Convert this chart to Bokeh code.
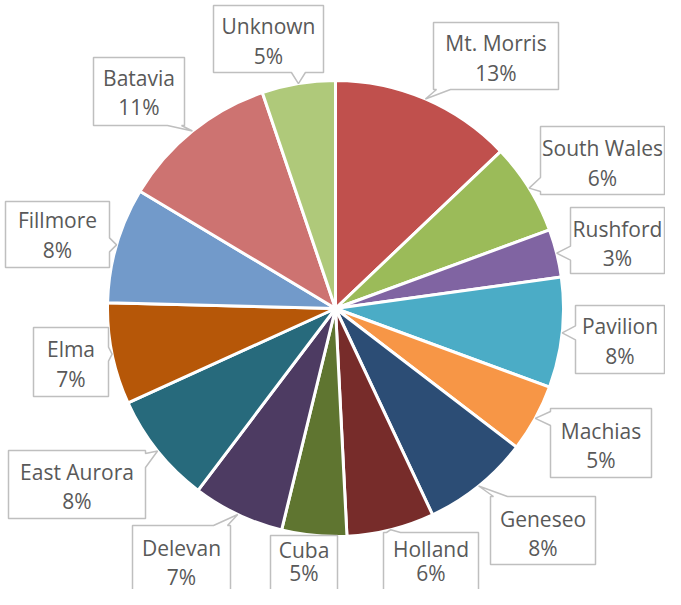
import math
from bokeh.plotting import figure
from bokeh.models import Range1d
from bokeh.core.properties import value
from bokeh.embed import file_html
from bokeh.resources import INLINE

# ---- data ----
towns = ["Mt. Morris", "South Wales", "Rushford", "Pavilion", "Machias", "Geneseo",
         "Holland", "Cuba", "Delevan", "East Aurora", "Elma", "Fillmore", "Batavia", "Unknown"]
shares = [12.9, 6.5, 3.4, 7.8, 4.8, 7.6, 6.2, 4.6, 6.5, 7.9, 7.2, 8.2, 11.2, 5.2]
pct_labels = ["13%", "6%", "3%", "8%", "5%", "8%", "6%", "5%", "7%", "8%", "7%", "8%", "11%", "5%"]
colors = ["#C0504D", "#9BBB59", "#8064A2", "#4BACC6", "#F79646", "#2C4D75", "#772C2A",
          "#5F7530", "#4D3B62", "#276A7C", "#B65708", "#729ACA", "#CD7371", "#AFC97A"]

# ---- layout (pixel coordinates, origin at top-left of the picture) ----
W, H = 665, 589
CX, CY, R = 335, 308, 228
# label boxes: x0, x1, y0(top), y1(bottom), tail side, line1 offset, line2 offset
boxes = [
    (433, 558, 22, 89, "bottom", 20, 50),
    (540, 664, 126, 194, "left", 21, 51),
    (570, 664, 207, 273, "left", 21, 50),
    (575, 664, 305, 373, "left", 20, 50),
    (550, 651, 408, 477, "left", 22, 51),
    (490, 595, 496, 564, "top", 22, 51),
    (383, 478, 532, 600, "top", 16, 40),
    (270, 337, 535, 600, "top", 14, 37),
    (132, 230, 525, 593, "top", 22, 51),
    (8, 145, 450, 518, "right", 21, 50),
    (33, 108, 327, 396, "right", 21, 51),
    (5, 109, 201, 267, "right", 18, 48),
    (93, 184, 57, 125, "bottom", 20, 49),
    (213, 323, 5, 72, "bottom", 20, 50),
]

def fy(sy):
    return 605 - sy

p = figure(width=W, height=H, output_backend="svg", toolbar_location=None,
           x_range=Range1d(0, W), y_range=Range1d(605 - H, 605),
           min_border=0)
p.axis.visible = False
p.grid.visible = False
p.outline_line_color = None
p.background_fill_color = "white"
p.border_fill_color = "white"

total = sum(shares)
starts, ends, mids = [], [], []
cum = 0.0
for s in shares:
    a0 = math.pi / 2 - 2 * math.pi * cum / total
    cum += s
    a1 = math.pi / 2 - 2 * math.pi * cum / total
    starts.append(a0)
    ends.append(a1)
    mids.append((a0 + a1) / 2)

p.wedge(x=CX, y=fy(CY), radius=R, start_angle=starts, end_angle=ends,
        direction="clock", fill_color=colors, line_color="white", line_width=3)

xs, ys = [], []
tx, ty1, ty2 = [], [], []
for (x0, x1, y0, y1, side, o1, o2), m in zip(boxes, mids):
    tipx = CX + R * math.cos(m)
    tipy = CY - R * math.sin(m)
    w = 7
    pts = [(x0, y0)]
    if side == "top":
        bx = min(max(tipx, x0 + 10), x1 - 10)
        pts += [(bx - w, y0), (tipx, tipy), (bx + w, y0)]
    pts.append((x1, y0))
    if side == "right":
        by = min(max(tipy, y0 + 10), y1 - 10)
        pts += [(x1, by - w), (tipx, tipy), (x1, by + w)]
    pts.append((x1, y1))
    if side == "bottom":
        bx = min(max(tipx, x0 + 10), x1 - 10)
        pts += [(bx + w, y1), (tipx, tipy), (bx - w, y1)]
    pts.append((x0, y1))
    if side == "left":
        by = min(max(tipy, y0 + 10), y1 - 10)
        pts += [(x0, by + w), (tipx, tipy), (x0, by - w)]
    xs.append([q[0] for q in pts])
    ys.append([fy(q[1]) for q in pts])
    tx.append((x0 + x1) / 2)
    ty1.append(fy(y0 + o1))
    ty2.append(fy(y0 + o2))

p.patches(xs=xs, ys=ys, fill_color="white", line_color="#BFBFBF", line_width=1.5)

font = value("Open Sans")
p.text(x=tx, y=ty1, text=towns, text_align="center", text_baseline="middle",
       text_font=font, text_font_size="21px", text_color="#595959")
p.text(x=tx, y=ty2, text=pct_labels, text_align="center", text_baseline="middle",
       text_font=font, text_font_size="21px", text_color="#595959")

open("out.html", "w").write(file_html(p, INLINE))
